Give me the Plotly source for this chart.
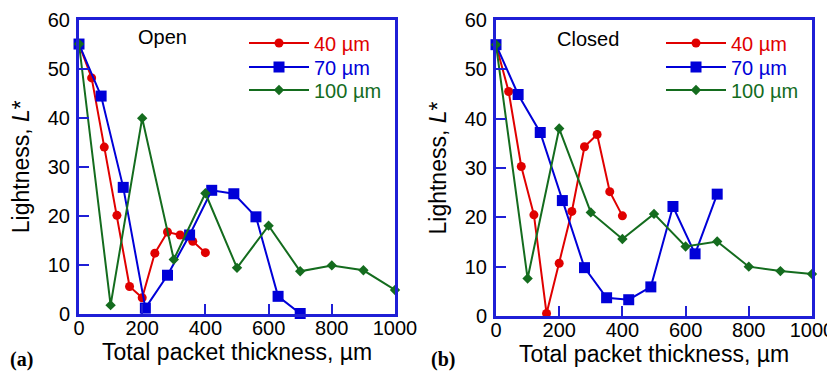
import plotly.graph_objects as go

# ---- data: panel (a) Open ----
x40 = [0, 40, 80, 120, 160, 200, 240, 280, 320, 360, 400]
x70 = [0, 70, 140, 210, 280, 350, 420, 490, 560, 630, 700]
x100 = [0, 100, 200, 300, 400, 500, 600, 700, 800, 900, 1000]

open_40 = [55, 48.1, 34.0, 20.1, 5.6, 3.3, 12.4, 16.7, 16.1, 14.8, 12.5]
open_70 = [55, 44.4, 25.8, 1.2, 7.9, 16.1, 25.2, 24.5, 19.8, 3.6, 0.1]
open_100 = [55, 1.8, 39.9, 11.1, 24.6, 9.4, 18.0, 8.7, 9.9, 8.9, 4.9]

# ---- data: panel (b) Closed ----
closed_40 = [55, 45.5, 30.3, 20.5, 0.5, 10.7, 21.2, 34.3, 36.8, 25.2, 20.3]
closed_70 = [55, 44.9, 37.2, 23.4, 9.8, 3.7, 3.3, 5.9, 22.2, 12.6, 24.7]
closed_100 = [55, 7.6, 38.0, 21.0, 15.6, 20.7, 14.1, 15.1, 10.0, 9.1, 8.5]

series_names = ["40 µm", "70 µm", "100 µm"]
x_ticks = [0, 200, 400, 600, 800, 1000]
y_ticks = [0, 10, 20, 30, 40, 50, 60]

RED = "#e00000"
BLUE = "#0000d8"
GREEN = "#146c1e"
AXBLUE = "#1f1fd6"
FONT = "Liberation Sans, Arial, sans-serif"
SERIF = "Liberation Serif, Times New Roman, serif"

# page body has an 8px margin; figure fills the rest of the 835x373 window
OFF = 8
W, H = 835 - OFF, 373 - OFF


def px(x):
    return (x - OFF) / W


def py(y):
    return 1 - (y - OFF) / H


styles = [
    (RED, "circle", 9),
    (BLUE, "square", 11),
    (GREEN, "diamond", 8),
]

fig = go.Figure()

panels = [
    ("x", "y", 244, [(x40, open_40), (x70, open_70), (x100, open_100)]),
    ("x2", "y2", 661, [(x40, closed_40), (x70, closed_70), (x100, closed_100)]),
]
row_y = [43, 67, 90]

legend_layout = {}
k = 0
for xa, ya, lx, data in panels:
    for i, ((xs, ys), name, (col, sym, sz)) in enumerate(zip(data, series_names, styles)):
        k += 1
        lname = "legend" if k == 1 else f"legend{k}"
        fig.add_trace(go.Scatter(
            x=xs, y=ys, xaxis=xa, yaxis=ya, mode="lines+markers",
            name=f"<span style='color:{col}'>{name}</span>",
            line=dict(color=col, width=2),
            marker=dict(color=col, symbol=sym, size=sz),
            cliponaxis=False, legend=lname,
        ))
        legend_layout[lname] = dict(
            x=px(lx), y=py(row_y[i]), xanchor="left", yanchor="middle",
            bgcolor="rgba(0,0,0,0)", font=dict(family=FONT, size=20),
            itemwidth=60,
        )

axis_common = dict(
    showgrid=False, zeroline=False, showline=True, mirror=True, automargin=False,
    linecolor=AXBLUE, linewidth=3, ticks="inside", ticklen=10, tickwidth=2,
    tickcolor=AXBLUE, tickfont=dict(family=FONT, size=20, color="black"),
)

xtitle = dict(text="Total packet thickness, µm", font=dict(family=FONT, size=23, color="black"), standoff=4)
ytitle = dict(text="Lightness, <i>L</i>*", font=dict(family=FONT, size=23, color="black"), standoff=12)

fig.update_layout(
    width=W, height=H,
    margin=dict(l=0, r=0, t=0, b=0, autoexpand=False),
    paper_bgcolor="white", plot_bgcolor="white",
    xaxis=dict(domain=[px(79), px(395)], range=[0, 1000], tickvals=x_ticks, anchor="y",
               title=xtitle, ticklabelstandoff=-6, **axis_common),
    yaxis=dict(domain=[py(314), py(19.5)], range=[0, 60], tickvals=y_ticks, anchor="x",
               title=ytitle, ticklabelstandoff=2, **axis_common),
    xaxis2=dict(domain=[px(496), px(812)], range=[0, 1000], tickvals=x_ticks, anchor="y2",
                title=xtitle, ticklabelstandoff=-6, **axis_common),
    yaxis2=dict(domain=[py(316), py(20)], range=[0, 60], tickvals=y_ticks, anchor="x2",
                title=ytitle, ticklabelstandoff=2, **axis_common),
    showlegend=True,
    **legend_layout,
)

ann = dict(xref="paper", yref="paper", showarrow=False, xanchor="center", yanchor="middle")
fig.add_annotation(text="Open", x=px(162), y=py(37), font=dict(family=FONT, size=20, color="black"), **ann)
fig.add_annotation(text="Closed", x=px(588), y=py(39), font=dict(family=FONT, size=20, color="black"), **ann)
fig.add_annotation(text="<b>(a)</b>", x=px(21), y=py(359), font=dict(family=SERIF, size=20, color="black"), **ann)
fig.add_annotation(text="<b>(b)</b>", x=px(443), y=py(359), font=dict(family=SERIF, size=20, color="black"), **ann)

fig.write_html("out.html")
